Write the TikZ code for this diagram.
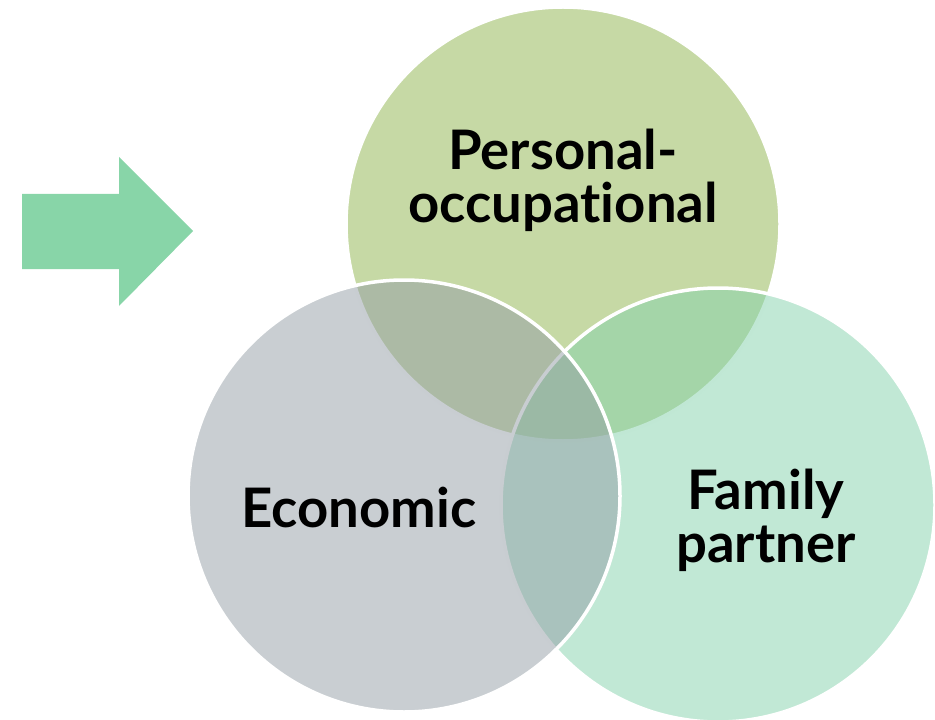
\documentclass[tikz,border=0pt]{standalone}
\usepackage{fontspec}
\setmainfont{Lato}[Ligatures=NoCommon]
\usepackage{tikz}

\definecolor{persgreen}{RGB}{141,179,75}
\definecolor{econgrey}{RGB}{147,157,165}
\definecolor{fammint}{RGB}{131,209,171}
\definecolor{arrowgreen}{RGB}{136,213,168}

\tikzset{
  venn/.style={fill opacity=0.5, draw=white, draw opacity=1, line width=0.07cm},
  venntext/.style={align=center, font=\fontsize{31}{30}\selectfont\bfseries, text=black}
}

\begin{document}
\begin{tikzpicture}[x=0.02cm,y=-0.02cm]
            \useasboundingbox (0,0) rectangle (935,719);

            % arrow on the left
            \fill[arrowgreen] (22,194) -- (119,194) -- (119,157) -- (193,231)
                -- (119,306) -- (119,269) -- (22,269) -- cycle;

            % the three sets
            \filldraw[venn, fill=persgreen] (563,224) circle (217);
            \filldraw[venn, fill=fammint] (718,505) circle (217);
            \filldraw[venn, fill=econgrey] (404,496) circle (216);

            \node[venntext] (pers) at (563,180) {Personal-\\occupational};
            \node[venntext] (econ) at (359,508) {Economic};
            \node[venntext] (fam) at (766,520) {Family\\partner};
          \end{tikzpicture}
\end{document}
